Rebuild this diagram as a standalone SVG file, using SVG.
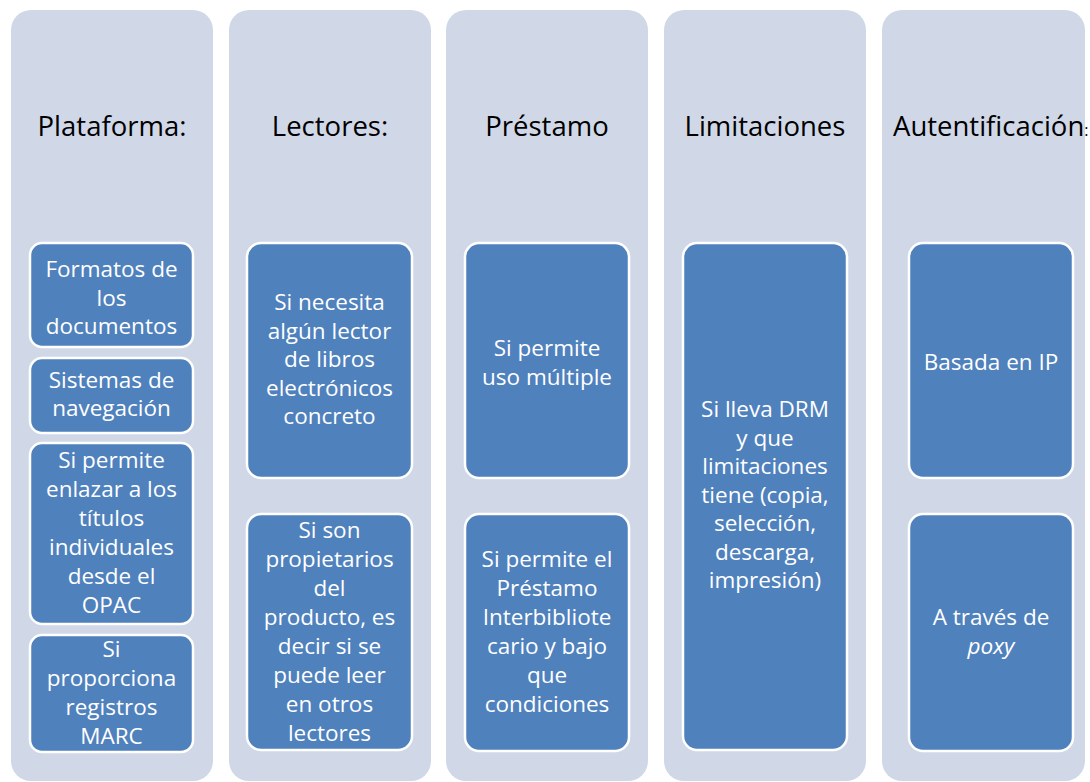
<svg xmlns="http://www.w3.org/2000/svg" width="1090" height="782" viewBox="0 0 1090 782">
<style>
.col{fill:#d0d8e8;}
.box{fill:#4f81bd;stroke:#ffffff;stroke-width:2.5;}
.hd{font-family:"Open Sans","Liberation Sans",sans-serif;font-size:27.5px;fill:#000000;text-anchor:middle;}
.tx{font-family:"Open Sans","Liberation Sans",sans-serif;font-size:22.5px;fill:#ffffff;text-anchor:middle;}
</style>
<rect width="1090" height="782" fill="#ffffff"/>
<g id="col-plataforma">
<rect class="col" x="11" y="10" width="202" height="771" rx="20"/>
<text class="hd" x="112" y="136">Plataforma:</text>
</g>
<g id="col-lectores">
<rect class="col" x="229" y="10" width="202" height="771" rx="20"/>
<text class="hd" x="330" y="136">Lectores:</text>
</g>
<g id="col-prestamo">
<rect class="col" x="446" y="10" width="202" height="771" rx="20"/>
<text class="hd" x="547" y="136">Préstamo</text>
</g>
<g id="col-limitaciones">
<rect class="col" x="664" y="10" width="202" height="771" rx="20"/>
<text class="hd" x="765" y="136">Limitaciones</text>
</g>
<g id="col-autentificacion">
<rect class="col" x="882" y="10" width="203" height="771" rx="20"/>
<text class="hd" x="893" y="136" style="text-anchor:start">Autentificación<tspan style="font-size:16px">:</tspan></text>
</g>
<g id="connectors"></g>
<g id="n-formatos">
<rect class="box" x="30" y="243" width="163" height="104" rx="12"/>
<text class="tx" x="111.5" y="277">Formatos de</text>
<text class="tx" x="111.5" y="305.5">los</text>
<text class="tx" x="111.5" y="334">documentos</text>
</g>
<g id="n-sistemas">
<rect class="box" x="30" y="358" width="163" height="75" rx="12"/>
<text class="tx" x="111.5" y="388">Sistemas de</text>
<text class="tx" x="111.5" y="416">navegación</text>
</g>
<g id="n-enlazar">
<rect class="box" x="30" y="443" width="163" height="181" rx="12"/>
<text class="tx" x="111.5" y="468">Si permite</text>
<text class="tx" x="111.5" y="497">enlazar a los</text>
<text class="tx" x="111.5" y="526">títulos</text>
<text class="tx" x="111.5" y="555">individuales</text>
<text class="tx" x="111.5" y="584">desde el</text>
<text class="tx" x="111.5" y="613">OPAC</text>
</g>
<g id="n-marc">
<rect class="box" x="30" y="635" width="163" height="117" rx="12"/>
<text class="tx" x="111.5" y="657">Si</text>
<text class="tx" x="111.5" y="686">proporciona</text>
<text class="tx" x="111.5" y="715">registros</text>
<text class="tx" x="111.5" y="744">MARC</text>
</g>
<g id="n-lector">
<rect class="box" x="247" y="243" width="165" height="235" rx="14"/>
<text class="tx" x="329.5" y="310">Si necesita</text>
<text class="tx" x="329.5" y="338.5">algún lector</text>
<text class="tx" x="329.5" y="367">de libros</text>
<text class="tx" x="329.5" y="395.5">electrónicos</text>
<text class="tx" x="329.5" y="424">concreto</text>
</g>
<g id="n-propietarios">
<rect class="box" x="247" y="514" width="165" height="236" rx="14"/>
<text class="tx" x="329.5" y="538">Si son</text>
<text class="tx" x="329.5" y="567">propietarios</text>
<text class="tx" x="329.5" y="596">del</text>
<text class="tx" x="329.5" y="625">producto, es</text>
<text class="tx" x="329.5" y="654">decir si se</text>
<text class="tx" x="329.5" y="683">puede leer</text>
<text class="tx" x="329.5" y="712">en otros</text>
<text class="tx" x="329.5" y="741">lectores</text>
</g>
<g id="n-multiple">
<rect class="box" x="465" y="243" width="164" height="235" rx="14"/>
<text class="tx" x="547" y="356">Si permite</text>
<text class="tx" x="547" y="385">uso múltiple</text>
</g>
<g id="n-interbibliotecario">
<rect class="box" x="465" y="514" width="164" height="237" rx="14"/>
<text class="tx" x="547" y="567">Si permite el</text>
<text class="tx" x="547" y="596">Préstamo</text>
<text class="tx" x="547" y="625">Interbibliote</text>
<text class="tx" x="547" y="654">cario y bajo</text>
<text class="tx" x="547" y="683">que</text>
<text class="tx" x="547" y="712">condiciones</text>
</g>
<g id="n-drm">
<rect class="box" x="683" y="243" width="164" height="507" rx="14"/>
<text class="tx" x="765" y="417">Si lleva DRM</text>
<text class="tx" x="765" y="445.5">y que</text>
<text class="tx" x="765" y="474">limitaciones</text>
<text class="tx" x="765" y="502.5">tiene (copia,</text>
<text class="tx" x="765" y="531">selección,</text>
<text class="tx" x="765" y="559.5">descarga,</text>
<text class="tx" x="765" y="588">impresión)</text>
</g>
<g id="n-ip">
<rect class="box" x="909" y="243" width="164" height="235" rx="14"/>
<text class="tx" x="991" y="370">Basada en IP</text>
</g>
<g id="n-proxy">
<rect class="box" x="909" y="514" width="164" height="237" rx="14"/>
<text class="tx" x="991" y="625">A través de</text>
<text class="tx" x="991" y="654" font-style="italic">poxy</text>
</g>
</svg>
